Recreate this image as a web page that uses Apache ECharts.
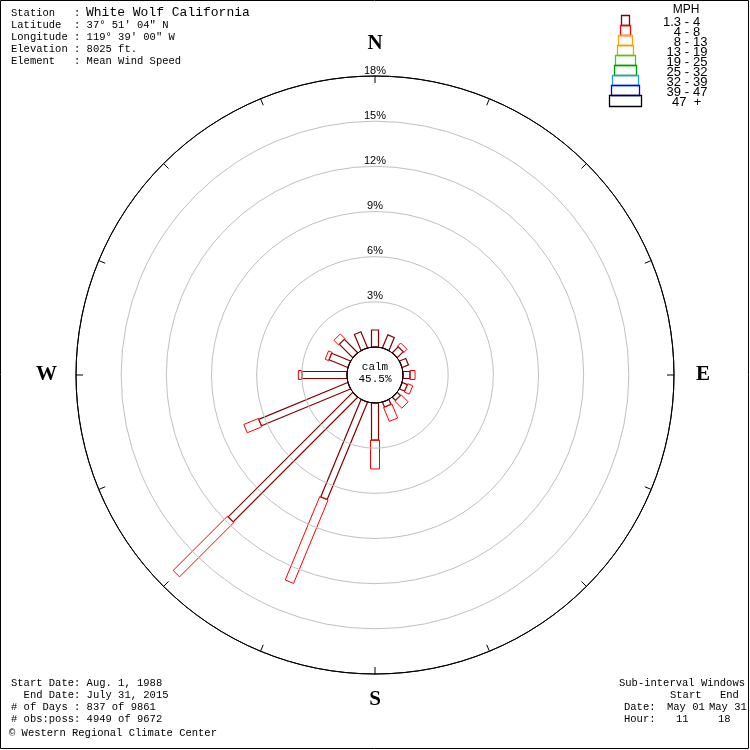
<!DOCTYPE html>
<html>
<head>
<meta charset="utf-8">
<script src="https://cdn.jsdelivr.net/npm/echarts@6/dist/echarts.min.js"></script>
<style>
html,body{margin:0;padding:0;background:#fff;}
#chart{width:750px;height:750px;}
</style>
</head>
<body>
<div id="chart"></div>
<script>
// ---- data ----
var directions = ['N','NNE','NE','ENE','E','ESE','SE','SSE','S','SSW','SW','WSW','W','WNW','NW','NNW'];
var directionAngles = [0,22.5,45,67.5,90,112.5,135,157.5,180,202.5,225,247.5,270,292.5,315,337.5];
var speedClasses = ['1.3 - 4','4 - 8','8 - 13','13 - 19','19 - 25','25 - 32','32 - 39','39 - 47','47 +'];
// percent frequency per direction, per speed class (only the two lowest classes occur)
var speed1to4 = [1.13,0.93,0.55,0.45,0.46,0.37,0.30,0.35,2.46,7.0,11.7,6.4,3.0,1.35,1.25,1.15];
var speed4to8 = [0,0,0.30,0,0.34,0.36,0.66,1.0,1.92,6.0,5.1,1.05,0.23,0.25,0.45,0];
var calmPct = '45.5%';
var ringTicks = [0,3,6,9,12,15,18];
var stationInfo = [
  ['Station   : ', 'White Wolf California'],
  ['Latitude  : 37° 51\' 04" N', ''],
  ['Longitude : 119° 39\' 00" W', ''],
  ['Elevation : 8025 ft.', ''],
  ['Element   : Mean Wind Speed', '']
];
var periodInfo = ['Start Date: Aug. 1, 1988','  End Date: July 31, 2015','# of Days : 837 of 9861','# obs:poss: 4949 of 9672'];
var credit = '\u00A9 Western Regional Climate Center';

// ---- styles ----
var classColors = ['#800000','#ff0000','#ffa500','#daa520','#22dd22','#009900','#1ea0e8','#0000ee','#000000'];
var classWidths = [8,10,14,16,20,22,26,28,32];
var monoFont = '"Liberation Mono", "DejaVu Sans Mono", monospace';

// build stacked segments from data
var segs = [];
var layers = [speed1to4, speed4to8];
for (var d = 0; d < directions.length; d++) {
  var base = 0;
  for (var c = 0; c < layers.length; c++) {
    var v = layers[c][d];
    if (v > 0) {
      segs.push([base + v, directionAngles[d], base, c]);
      base += v;
    }
  }
}

var chart = echarts.init(document.getElementById('chart'), null, {renderer:'canvas'});

var graphics = [];
graphics.push({type:'rect', shape:{x:0.5,y:0.5,width:748,height:748}, style:{fill:'none',stroke:'#000',lineWidth:1}, z:0});
// station info
var yy = [13,25,37,49,61];
stationInfo.forEach(function(row,i){
  graphics.push({type:'text', x:11, y:yy[i], style:{text:row[0], font:'10.5px '+monoFont, fill:'#000', verticalAlign:'middle'}});
  if (row[1]) graphics.push({type:'text', x:86, y:yy[i], style:{text:row[1], font:'13px '+monoFont, fill:'#000', verticalAlign:'middle'}});
});
var yb = [683,695,707,719];
periodInfo.forEach(function(t,i){
  graphics.push({type:'text', x:11, y:yb[i], style:{text:t, font:'10.5px '+monoFont, fill:'#000', verticalAlign:'middle'}});
});
graphics.push({type:'text', x:9, y:733, style:{text:credit, font:'10.5px '+monoFont, fill:'#000', verticalAlign:'middle'}});
// sub-interval windows
var subTexts = [
  ['Sub-interval Windows',619,683],['Start',670,695],['End',720,695],
  ['Date:',624,707],['May 01',667,707],['May 31',709,707],
  ['Hour:',624,719],['11',676,719],['18',718,719]
];
subTexts.forEach(function(s){
  graphics.push({type:'text', x:s[1], y:s[2], style:{text:s[0], font:'10.5px '+monoFont, fill:'#000', verticalAlign:'middle'}});
});
// calm
graphics.push({type:'text', x:375, y:367, style:{text:'calm', font:'11px '+monoFont, fill:'#000', align:'center', verticalAlign:'middle'}, z:10});
graphics.push({type:'text', x:375, y:379, style:{text:calmPct, font:'11px '+monoFont, fill:'#000', align:'center', verticalAlign:'middle'}, z:10});
// legend
graphics.push({type:'text', x:686, y:10, style:{text:'MPH', font:'12px "Liberation Sans", sans-serif', fill:'#000', align:'center', verticalAlign:'middle'}});
speedClasses.forEach(function(lbl,i){
  var w = classWidths[i];
  graphics.push({type:'rect', shape:{x:Math.round(625 - w/2)+0.5, y:15.5 + i*10, width:w, height:10 + (i===8?1:0)}, style:{fill:'none', stroke:classColors[i], lineWidth:1.3}});
  var parts = lbl.split(' - ');
  var ty = 22.5 + i*10;
  var f = '13px "Liberation Sans", sans-serif';
  if (parts.length === 2) {
    graphics.push({type:'text', x:681, y:ty, style:{text:parts[0], font:f, fill:'#000', align:'right', verticalAlign:'middle'}});
    graphics.push({type:'text', x:687, y:ty, style:{text:'-', font:f, fill:'#000', align:'center', verticalAlign:'middle'}});
    graphics.push({type:'text', x:693, y:ty, style:{text:parts[1], font:f, fill:'#000', align:'left', verticalAlign:'middle'}});
  } else {
    graphics.push({type:'text', x:672, y:ty, style:{text:lbl.replace(' ', '  '), font:f, fill:'#000', align:'left', verticalAlign:'middle'}});
  }
});

var ringColors = ringTicks.map(function(t,i){ return (i===0 || i===ringTicks.length-1) ? '#000' : '#c0c0c0'; });
var cardinal = {0:'{n|N}',90:'{e|E}',180:'{s|S}',270:'{w|W}'};
var cardStyle = {fontFamily:'"Liberation Serif", serif', fontWeight:'bold', fontSize:21, color:'#000'};

var option = {
  backgroundColor:'#fff',
  animation:false,
  polar:{center:['50%','50%'], radius:[28,299]},
  angleAxis:{
    type:'value', min:0, max:360, interval:22.5, startAngle:90, clockwise:true,
    axisLine:{show:true, lineStyle:{color:'#000', width:1}},
    axisTick:{show:true, inside:true, length:7, lineStyle:{color:'#000'}},
    splitLine:{show:false},
    axisLabel:{
      margin:18,
      formatter:function(v){ return cardinal[v] || ''; },
      rich:{
        n:Object.assign({padding:[0,0,4,0]}, cardStyle),
        e:Object.assign({padding:[0,0,0,4]}, cardStyle),
        s:Object.assign({padding:[-3,0,0,0]}, cardStyle),
        w:Object.assign({padding:[0,1,0,0]}, cardStyle)
      }
    }
  },
  radiusAxis:{
    type:'value', min:0, max:18, interval:3,
    axisLine:{show:false}, axisTick:{show:false},
    axisLabel:{
      formatter:function(v){ return v===0 ? '' : v+'%'; },
      margin:0, align:'center', verticalAlign:'bottom',
      fontFamily:'"Liberation Sans", sans-serif', fontSize:11, color:'#000'
    },
    splitLine:{show:true, lineStyle:{color:ringColors, width:1}},
    z:5
  },
  series:[{
    type:'custom',
    coordinateSystem:'polar',
    encode:{radius:0, angle:1},
    data:segs,
    z:3,
    renderItem:function(params, api){
      var r1 = api.value(0), ang = api.value(1), r0 = api.value(2), cls = api.value(3);
      var p0 = api.coord([r0, ang]);
      var p1 = api.coord([r1, ang]);
      var dx = p1[0]-p0[0], dy = p1[1]-p0[1];
      var len = Math.sqrt(dx*dx+dy*dy) || 1;
      var nx = -dy/len, ny = dx/len;
      var hw = classWidths[cls]/2 - 0.5;
      if (cls === 0) hw = 3.5;
      return {
        type:'polygon',
        shape:{points:[
          [p0[0]+nx*hw, p0[1]+ny*hw],
          [p1[0]+nx*hw, p1[1]+ny*hw],
          [p1[0]-nx*hw, p1[1]-ny*hw],
          [p0[0]-nx*hw, p0[1]-ny*hw]
        ]},
        style:{fill:'none', stroke:classColors[cls], lineWidth:cls === 0 ? 1.2 : 1}
      };
    }
  }],
  graphic:graphics
};
chart.setOption(option);
</script>
</body>
</html>
